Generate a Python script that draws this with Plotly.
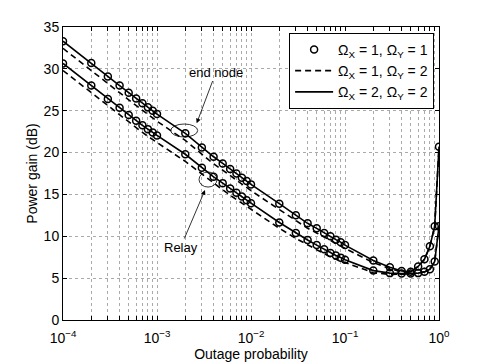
import plotly.graph_objects as go

# outage probability grid (1..9 per decade)
outage = [0.0001, 0.0002, 0.0003, 0.0004, 0.0005, 0.0006, 0.0007, 0.0008, 0.0009,
          0.001, 0.002, 0.003, 0.004, 0.005, 0.006, 0.007, 0.008, 0.009,
          0.01, 0.02, 0.03, 0.04, 0.05, 0.06, 0.07, 0.08, 0.09,
          0.1, 0.2, 0.3, 0.4, 0.5, 0.6, 0.7, 0.8, 0.9,
          1.0]

# end node, Omega_X = Omega_Y (1,1 and 2,2 coincide)
end_node_equal = [33.3, 30.7, 29.1, 28.0, 27.15, 26.45, 25.9, 25.4, 25.0,
                  24.6, 22.3, 20.6, 19.5, 18.7, 18.05, 17.5, 17.0, 16.6,
                  16.2, 13.9, 12.5, 11.55, 10.95, 10.4, 10.0, 9.6, 9.3,
                  8.95, 7.1, 6.3, 5.85, 5.75, 6.4, 7.25, 8.8, 11.2,
                  20.7]
# end node, Omega_X = 1, Omega_Y = 2
end_node_12 = [32.45, 29.85, 28.25, 27.15, 26.3, 25.6, 25.05, 24.55, 24.15,
               23.75, 21.45, 19.75, 18.65, 17.9, 17.25, 16.7, 16.2, 15.8,
               15.45, 13.2, 11.85, 10.95, 10.4, 9.9, 9.5, 9.15, 8.85,
               8.55, 6.85, 6.15, 5.75, 5.7, 6.4, 7.25, 8.8, 11.2,
               20.7]
# relay, Omega_X = Omega_Y
relay_equal = [30.65, 28.0, 26.4, 25.35, 24.5, 23.8, 23.25, 22.8, 22.4,
               22.05, 19.8, 18.2, 17.1, 16.35, 15.7, 15.2, 14.75, 14.3,
               13.95, 11.65, 10.4, 9.55, 8.95, 8.45, 8.0, 7.7, 7.45,
               7.2, 5.9, 5.6, 5.55, 5.55, 5.6, 5.75, 6.05, 7.0,
               11.2]
# relay, Omega_X = 1, Omega_Y = 2
relay_12 = [29.8, 27.15, 25.55, 24.5, 23.65, 22.95, 22.4, 21.95, 21.55,
            21.2, 18.95, 17.4, 16.3, 15.55, 14.9, 14.4, 13.95, 13.55,
            13.2, 10.95, 9.75, 8.95, 8.4, 7.95, 7.5, 7.25, 7.05,
            6.85, 5.65, 5.45, 5.45, 5.5, 5.6, 5.75, 6.05, 7.0,
            11.2]

x_ticktext = ["10<sup>−4</sup>", "", "", "", "", "", "", "", "",
              "10<sup>−3</sup>", "", "", "", "", "", "", "", "",
              "10<sup>−2</sup>", "", "", "", "", "", "", "", "",
              "10<sup>−1</sup>", "", "", "", "", "", "", "", "",
              "10<sup>0</sup>"]
y_ticks = [0, 5, 10, 15, 20, 25, 30, 35]

names = ["Ω<sub>X</sub> = 1, Ω<sub>Y</sub> = 1",
         "Ω<sub>X</sub> = 1, Ω<sub>Y</sub> = 2",
         "Ω<sub>X</sub> = 2, Ω<sub>Y</sub> = 2"]

fig = go.Figure()
for i, ys in enumerate([end_node_equal, relay_equal]):
    fig.add_trace(go.Scatter(x=outage, y=ys, mode="markers", name=names[0],
                             legendgroup="a", showlegend=(i == 0),
                             marker=dict(symbol="circle-open", size=7, color="black",
                                         line=dict(width=1.5, color="black"))))
for i, ys in enumerate([end_node_12, relay_12]):
    fig.add_trace(go.Scatter(x=outage, y=ys, mode="lines", name=names[1],
                             legendgroup="b", showlegend=(i == 0),
                             line=dict(color="black", width=1.6, dash="6px,4px")))
for i, ys in enumerate([end_node_equal, relay_equal]):
    fig.add_trace(go.Scatter(x=outage, y=ys, mode="lines", name=names[2],
                             legendgroup="c", showlegend=(i == 0),
                             line=dict(color="black", width=1.6)))

# ellipses (shape coords on log axes are data values)
fig.add_shape(type="circle", xref="x", yref="y", x0=0.00140, x1=0.00271, y0=21.86, y1=23.41,
              line=dict(color="black", width=0.8))
fig.add_shape(type="circle", xref="x", yref="y", x0=0.00280, x1=0.00435, y0=15.88, y1=17.68,
              line=dict(color="black", width=0.8))

fig.add_annotation(x=-2.578, y=23.5, ax=-2.372, ay=29.62, axref="x", ayref="y",
                   text="end node", showarrow=True, arrowhead=2, arrowsize=1.2,
                   arrowwidth=0.8, arrowcolor="black", font=dict(size=13, color="black"))
fig.add_annotation(x=-2.489, y=15.53, ax=-2.75, ay=8.66, axref="x", ayref="y",
                   text="Relay", showarrow=True, arrowhead=2, arrowsize=1.2,
                   arrowwidth=0.8, arrowcolor="black", font=dict(size=13, color="black"))

axis_common = dict(showline=True, linecolor="black", linewidth=1, mirror="ticks",
                   ticks="inside", ticklen=4, tickcolor="black",
                   showgrid=True, gridcolor="#aaaaaa", griddash="dot", gridwidth=1,
                   zeroline=False, automargin=False,
                   tickfont=dict(size=14, color="black"))
fig.update_xaxes(type="log", range=[-4, 0], tickvals=outage, ticktext=x_ticktext,
                 ticklabelstandoff=5,
                 title=dict(text="Outage probability", font=dict(size=14, color="black"), standoff=0),
                 **axis_common)
fig.update_yaxes(range=[0, 35], tickvals=y_ticks,
                 title=dict(text="Power gain (dB)", font=dict(size=14, color="black"), standoff=2),
                 **axis_common)

# the page body adds an 8px offset, so margins are shifted to keep the plot area in place
fig.update_layout(width=485, height=363, margin=dict(l=55, r=54, t=19, b=51),
                  plot_bgcolor="white", paper_bgcolor="white",
                  font=dict(family="Liberation Sans, Arial, sans-serif", color="black"),
                  legend=dict(x=0.987, y=0.98, xanchor="right", yanchor="top",
                              bgcolor="white", bordercolor="black", borderwidth=1,
                              itemwidth=38,
                              font=dict(size=14, color="black"), tracegroupgap=0))

fig.write_html("out.html")
